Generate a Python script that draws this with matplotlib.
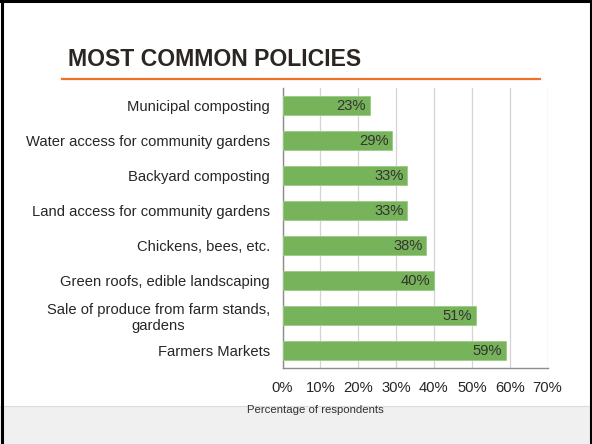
import matplotlib
matplotlib.use("Agg")
import matplotlib.pyplot as plt
from matplotlib.patches import Rectangle
from matplotlib.lines import Line2D

categories = [
    "Municipal composting",
    "Water access for community gardens",
    "Backyard composting",
    "Land access for community gardens",
    "Chickens, bees, etc.",
    "Green roofs, edible landscaping",
    "Sale of produce from farm stands,\ngardens",
    "Farmers Markets",
]
values = [23, 29, 33, 33, 38, 40, 51, 59]
xticks = [0, 10, 20, 30, 40, 50, 60, 70]
xtick_labels = ["0%", "10%", "20%", "30%", "40%", "50%", "60%", "70%"]
title = "MOST COMMON POLICIES"
xlabel = "Percentage of respondents"

plt.rcParams['font.family'] = ['Liberation Sans', 'DejaVu Sans']

W, H = 592, 444
fig = plt.figure(figsize=(W / 100, H / 100), dpi=100)
fig.patch.set_facecolor("white")

def fx(px):
    return px / W

def fy(py):
    return 1 - py / H

# gray band at bottom
fig.add_artist(Rectangle((0, 0), 1, fy(406), transform=fig.transFigure,
                         facecolor="#f0f0f0", edgecolor="none", zorder=0))
fig.add_artist(Line2D([0, 1], [fy(406), fy(406)], transform=fig.transFigure,
                      color="#dcdcdc", lw=0.8, zorder=1))

# black frame (top, left, right)
fig.add_artist(Line2D([fx(1.5), fx(1.5)], [0, 1], transform=fig.transFigure, color="black", lw=2.2))
fig.add_artist(Line2D([fx(590.5), fx(590.5)], [0, 1], transform=fig.transFigure, color="black", lw=1.5))
fig.add_artist(Line2D([0, 1], [fy(1.5), fy(1.5)], transform=fig.transFigure, color="black", lw=2.2))

# title
fig.text(fx(68), fy(66.5), title, fontsize=16.6, fontweight="bold", color="#2b2622",
         ha="left", va="baseline")
fig.add_artist(Line2D([fx(62), fx(540)], [fy(79.5), fy(79.5)], transform=fig.transFigure,
                      color="#f07125", lw=1.6))

ax = fig.add_axes([fx(282.5), fy(368), fx(547.5) - fx(282.5), fy(88) - fy(368)])
ax.set_facecolor("none")
y = list(range(len(categories)))
ax.barh(y, values, height=0.56, color="#77b35a", edgecolor="#9ccc84", linewidth=0.6, zorder=3)
ax.set_ylim(len(categories) - 0.5, -0.5)
ax.set_xlim(0, 70)
ax.set_yticks(y)
ax.set_yticklabels(categories, fontsize=10.6, color="#262626", multialignment="center")
ax.set_xticks(xticks)
ax.set_xticklabels(xtick_labels, fontsize=10.6, color="#262626")
ax.tick_params(axis="both", length=0)
ax.tick_params(axis="y", pad=9)
ax.tick_params(axis="x", pad=9)
ax.grid(axis="x", color="#d4d4d4", lw=0.9, zorder=0)
for s in ["top", "right"]:
    ax.spines[s].set_visible(False)
for s in ["left", "bottom"]:
    ax.spines[s].set_color("#8c8c8c")
    ax.spines[s].set_linewidth(1.0)

for yi, v in zip(y, values):
    ax.text(v - 0.9, yi, f"{v}%", ha="right", va="center", fontsize=10.6,
            color="#333333", zorder=4)

fig.text(fx(315.5), fy(410), xlabel, fontsize=8.2, color="#333333", ha="center", va="center")

fig.savefig("out.png", dpi=100)
